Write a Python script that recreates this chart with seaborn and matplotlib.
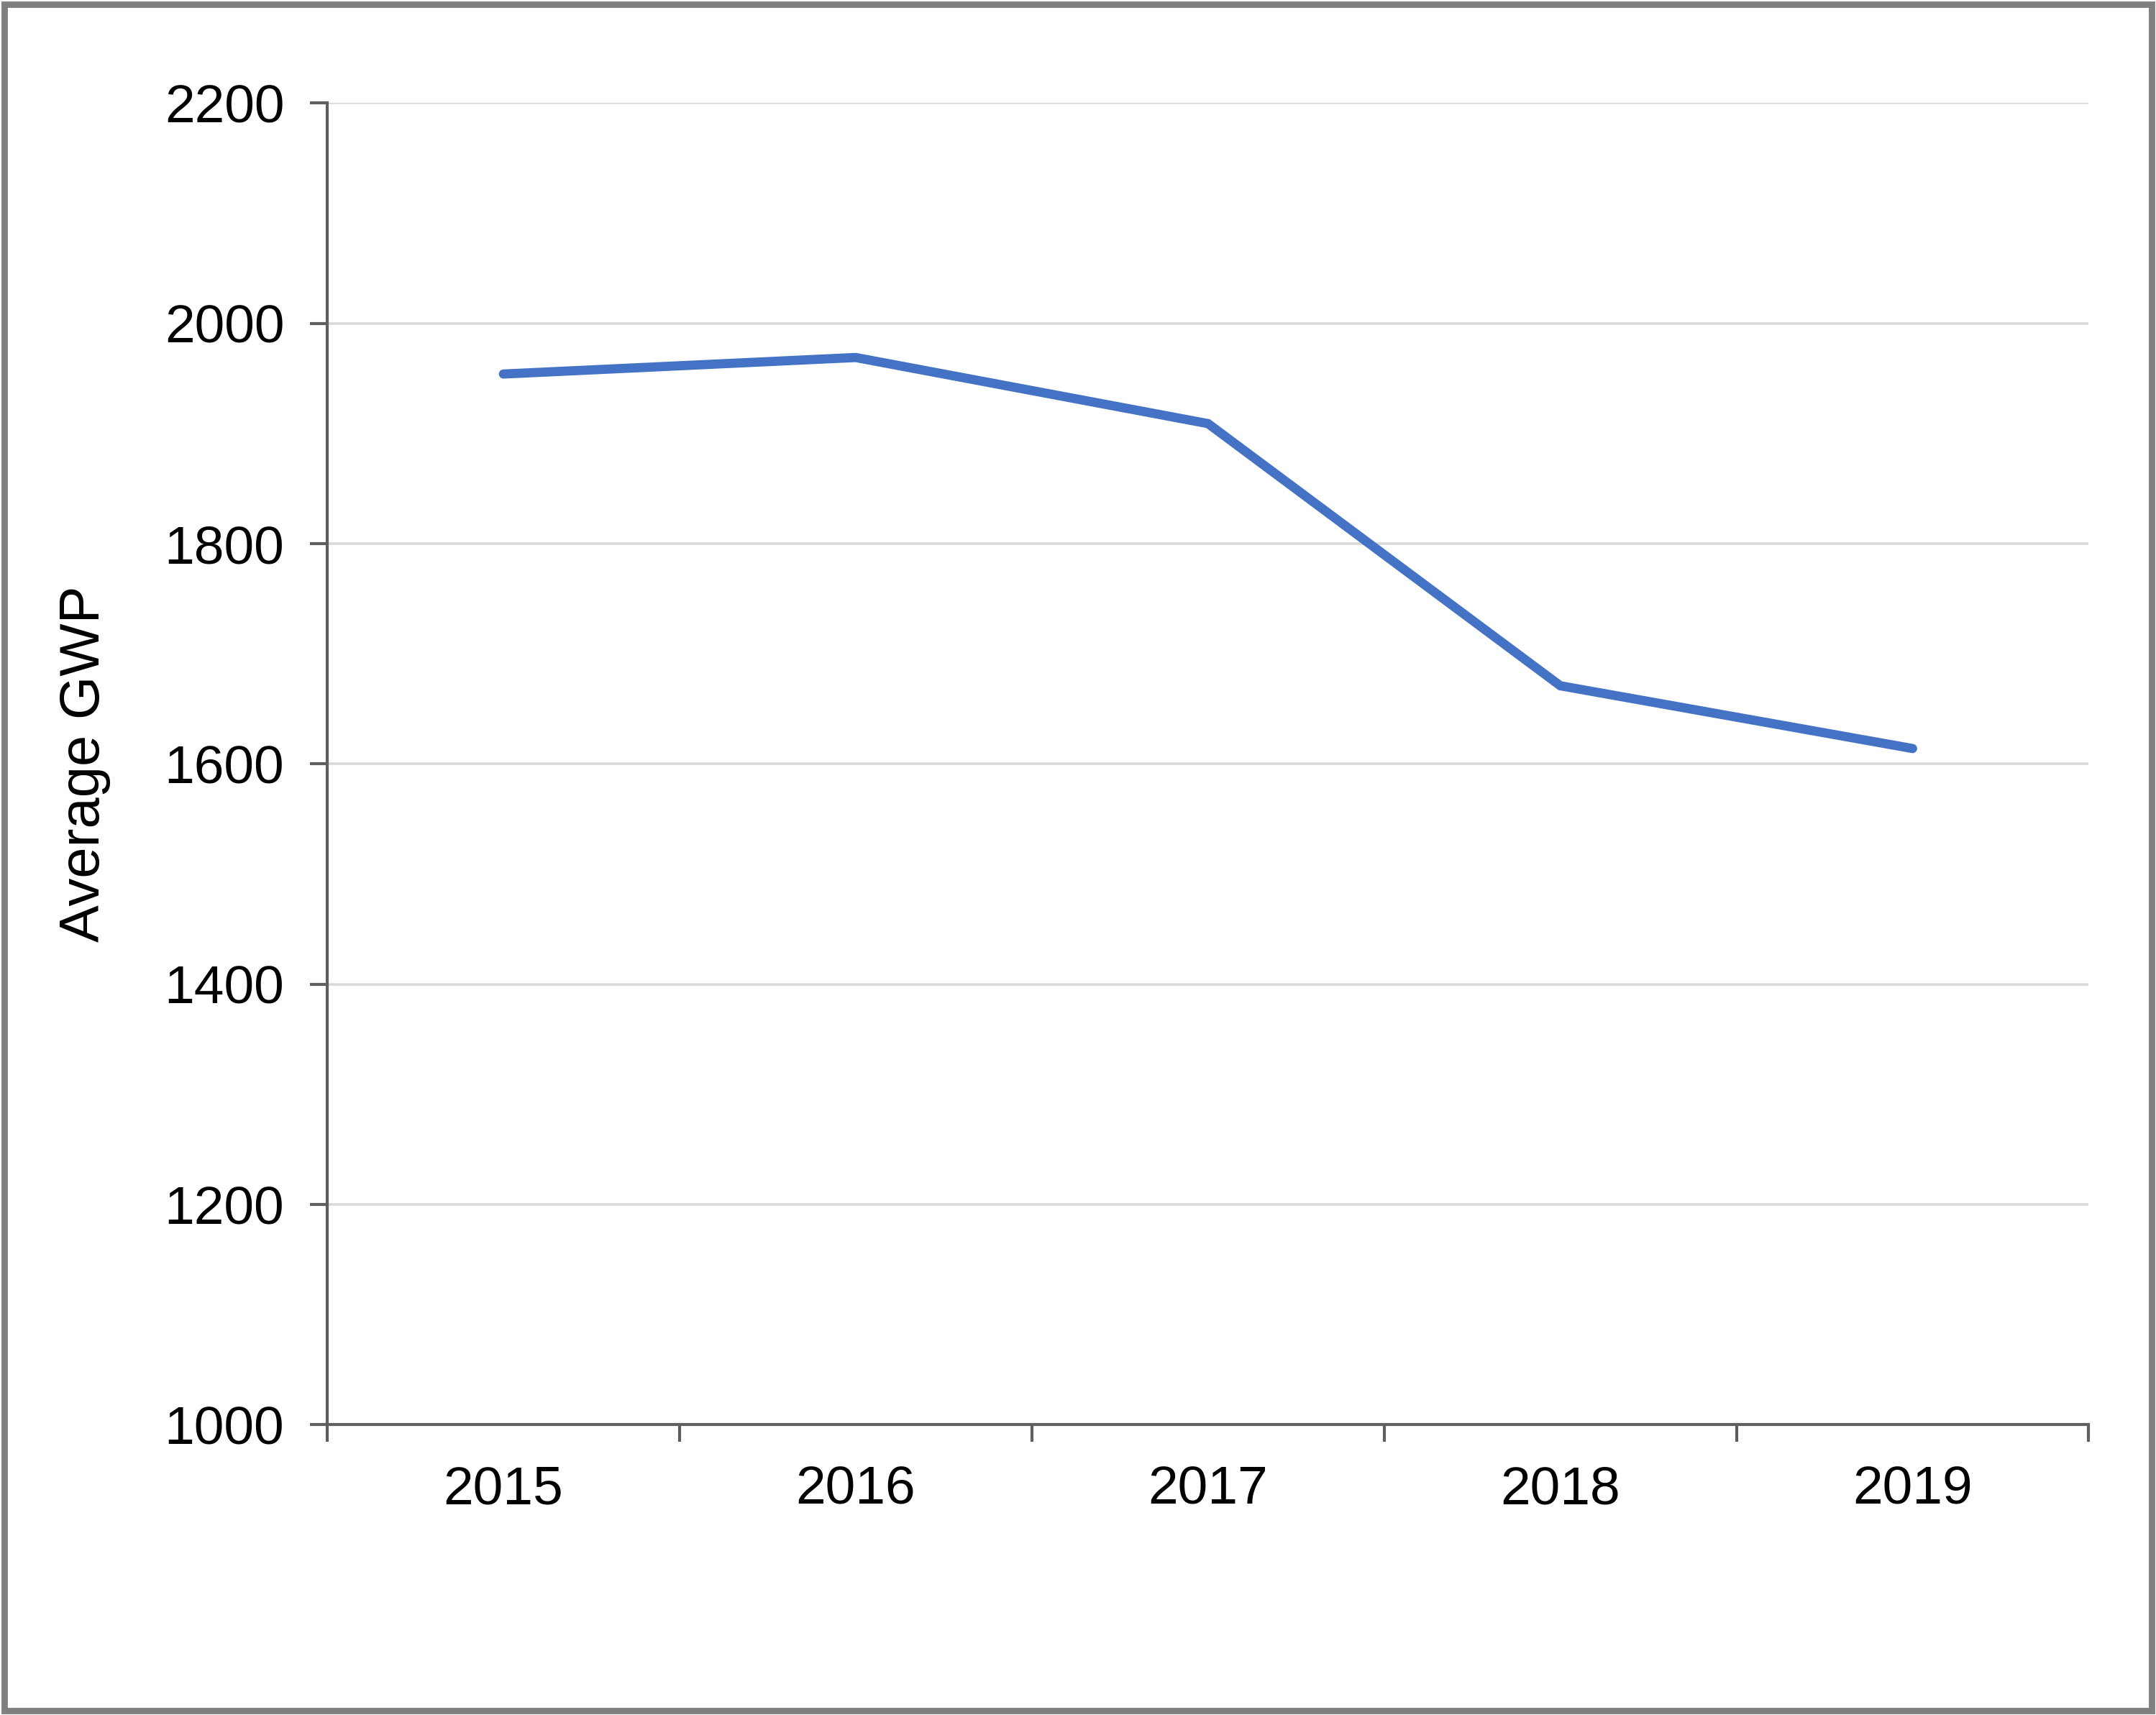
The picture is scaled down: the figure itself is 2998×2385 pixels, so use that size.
import numpy as np
import pandas as pd
import seaborn as sns
import matplotlib as mpl
from matplotlib import pyplot as plt
from matplotlib.patches import Rectangle

# data
years = ["2015", "2016", "2017", "2018", "2019"]
avg_gwp = [1954, 1969, 1909, 1671, 1614]
y_ticks = [1000, 1200, 1400, 1600, 1800, 2000, 2200]

sns.set_style("white")
plt.rcParams['font.family'] = ['Liberation Sans', 'DejaVu Sans']

df = pd.DataFrame({"year": years, "gwp": avg_gwp})

fig = plt.figure(figsize = (14.99, 11.925), dpi = 200)
ax = fig.add_axes([0.1518, 0.1692, 0.8170, 0.7707])

ax.set_axisbelow(True)
for y in y_ticks[1:]:
    ax.axhline(y, color = "#D9D9D9", linewidth = 1.3, zorder = 0)

sns.lineplot(data = df, x = "year", y = "gwp", ax = ax, color = "#4472C4",
             linewidth = 4.6, solid_capstyle = "round", solid_joinstyle = "miter", sort = False)

ax.set_xlim(-0.5, len(years) - 0.5)
ax.set_ylim(y_ticks[0], y_ticks[-1])
ax.set_yticks(y_ticks)
ax.set_yticklabels([str(v) for v in y_ticks])

# category boundaries carry the ticks, labels sit in between
ax.set_xticks(np.arange(len(years) + 1) - 0.5)
ax.set_xticklabels([])
ax.set_xticks(np.arange(len(years)), minor = True)
ax.set_xticklabels(years, minor = True)

ax.tick_params(axis = "x", which = "major", direction = "out", length = 8.5, width = 1.5,
               color = "#5F5F5F", bottom = True)
ax.tick_params(axis = "x", which = "minor", length = 0, pad = 20, labelsize = 27, labelcolor = "black")
ax.tick_params(axis = "y", direction = "out", length = 8.5, width = 1.5, color = "#5F5F5F",
               left = True, pad = 13, labelsize = 27, labelcolor = "black")

for s in ["top", "right"]:
    ax.spines[s].set_visible(False)
for s in ["left", "bottom"]:
    ax.spines[s].set_color("#5F5F5F")
    ax.spines[s].set_linewidth(1.5)

ax.set_xlabel("")
ax.set_ylabel("Average GWP", fontsize = 28, labelpad = 27, color = "black")

# outer frame around the whole chart
fig.patches.append(Rectangle((0.002, 0.0025), 0.996, 0.995, transform = fig.transFigure,
                             fill = False, edgecolor = "#808080", linewidth = 3.2))

fig.savefig("out.png", dpi = 200)
